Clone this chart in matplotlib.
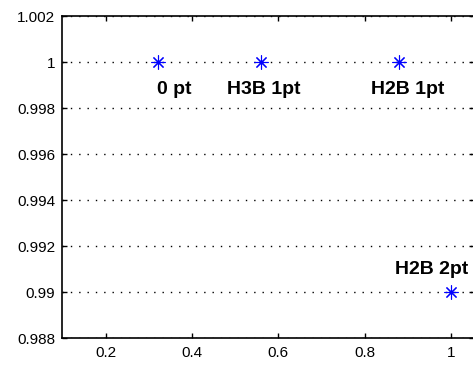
import matplotlib
matplotlib.use("Agg")
import matplotlib.pyplot as plt

# data
xs = [0.32, 0.56, 0.88, 1.0]
ys = [1.0, 1.0, 1.0, 0.99]
labels = ['0 pt', 'H3B 1pt', 'H2B 1pt', 'H2B 2pt']
xticks = [0.2, 0.4, 0.6, 0.8, 1.0]
xticklabels = ['0.2', '0.4', '0.6', '0.8', '1']
yticks = [0.988, 0.99, 0.992, 0.994, 0.996, 0.998, 1.0, 1.002]
yticklabels = ['0.988', '0.99', '0.992', '0.994', '0.996', '0.998', '1', '1.002']

# label offsets in pixels (left edge / baseline relative to point)
offsets = [(-1, -32), (-34, -32), (-28, -32), (-56, 18)]

plt.rcParams['font.family'] = ['Liberation Sans', 'DejaVu Sans']

fig = plt.figure(figsize=(4.73, 3.69), dpi=100)
ax = fig.add_axes([62 / 473, 31 / 369, 412 / 473, 322 / 369])

ax.plot(xs, ys, linestyle='none', marker=(8, 2, 0), markersize=10,
        markeredgewidth=0.8, color='#0000ff', zorder=3)

for x, y, lab, off in zip(xs, ys, labels, offsets):
    ax.annotate(lab, (x, y), xytext=off, textcoords='offset pixels',
                ha='left', va='baseline', fontsize=14, fontweight='bold')

ax.set_xlim(0.098, 1.054)
ax.set_ylim(0.988, 1.002)
ax.set_xticks(xticks)
ax.set_xticklabels(xticklabels)
ax.set_yticks(yticks)
ax.set_yticklabels(yticklabels)
ax.tick_params(direction='in', length=3.5, width=1, top=True, right=True,
               labelsize=11, colors='black')
ax.tick_params(axis='x', pad=6)
ax.tick_params(axis='y', pad=5)
ax.yaxis.grid(True, color='black', linestyle=(0, (1, 5)), linewidth=1)
for s in ax.spines.values():
    s.set_linewidth(1.2)

fig.savefig('out.png', dpi=100)
